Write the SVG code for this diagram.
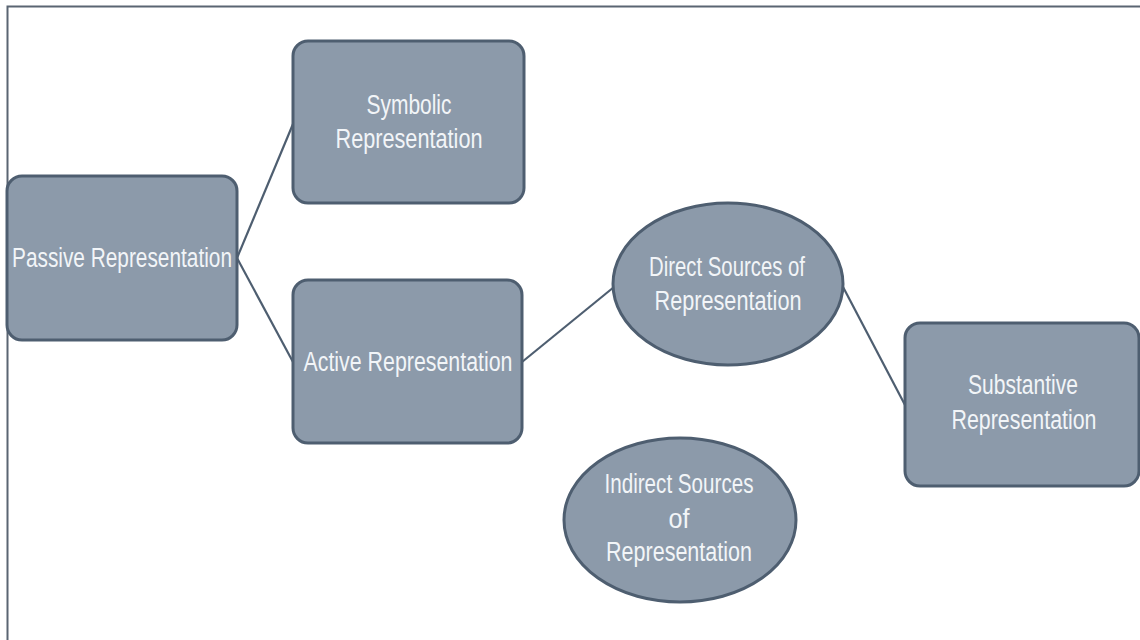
<svg xmlns="http://www.w3.org/2000/svg" width="1140" height="640" viewBox="0 0 1140 640">
  <style>
    .box { fill: #8C9AAA; stroke: #4E5E70; stroke-width: 3; }
    .edge { stroke: #4E5E70; stroke-width: 2.2; fill: none; }
    .lbl { font-family: "Liberation Sans", Arial, sans-serif; font-size: 27px; fill: #F2F5F8; text-anchor: middle; }
  </style>
  <rect width="1140" height="640" fill="#FFFFFF"/>
  <!-- outer frame: only top and left edges fall inside the canvas -->
  <path d="M7.5 640 V6.5 H1140" fill="none" stroke="#5A6572" stroke-width="2"/>

  <g id="connectors">
    <line class="edge" x1="237" y1="258" x2="293" y2="124"/>
    <line class="edge" x1="237" y1="258" x2="293" y2="362"/>
    <line class="edge" x1="522" y1="362" x2="614" y2="287"/>
    <line class="edge" x1="842" y1="285" x2="905" y2="405"/>
  </g>

  <g id="passive">
    <rect class="box" x="7" y="176" width="230" height="164" rx="15"/>
    <text class="lbl" x="122" y="267" textLength="220" lengthAdjust="spacingAndGlyphs">Passive Representation</text>
  </g>

  <g id="symbolic">
    <rect class="box" x="293" y="41" width="231" height="162" rx="15"/>
    <text class="lbl" x="409" y="114" textLength="85" lengthAdjust="spacingAndGlyphs">Symbolic</text>
    <text class="lbl" x="409" y="148" textLength="147" lengthAdjust="spacingAndGlyphs">Representation</text>
  </g>

  <g id="active">
    <rect class="box" x="293" y="280" width="229" height="163" rx="15"/>
    <text class="lbl" x="408" y="371" textLength="209" lengthAdjust="spacingAndGlyphs">Active Representation</text>
  </g>

  <g id="direct">
    <ellipse class="box" cx="728" cy="284" rx="115" ry="81"/>
    <text class="lbl" x="727" y="276" textLength="156" lengthAdjust="spacingAndGlyphs">Direct Sources of</text>
    <text class="lbl" x="728" y="310" textLength="147" lengthAdjust="spacingAndGlyphs">Representation</text>
  </g>

  <g id="substantive">
    <rect class="box" x="905" y="323" width="234" height="163" rx="15"/>
    <text class="lbl" x="1023" y="394" textLength="110" lengthAdjust="spacingAndGlyphs">Substantive</text>
    <text class="lbl" x="1024" y="429" textLength="145" lengthAdjust="spacingAndGlyphs">Representation</text>
  </g>

  <g id="indirect">
    <ellipse class="box" cx="680" cy="520" rx="116" ry="82"/>
    <text class="lbl" x="679" y="493" textLength="149" lengthAdjust="spacingAndGlyphs">Indirect Sources</text>
    <text class="lbl" x="679" y="528" textLength="21" lengthAdjust="spacingAndGlyphs">of</text>
    <text class="lbl" x="679" y="561" textLength="146" lengthAdjust="spacingAndGlyphs">Representation</text>
  </g>
</svg>
